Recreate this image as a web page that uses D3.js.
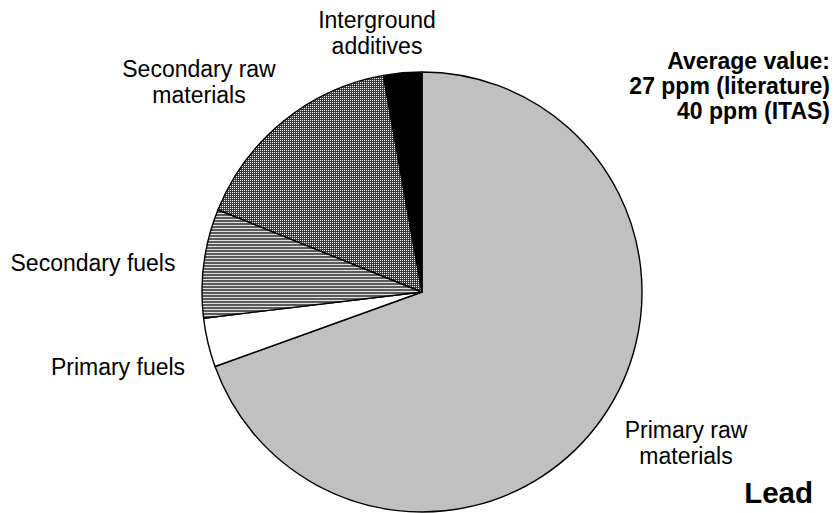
<!DOCTYPE html>
<html><head><meta charset="utf-8">
<script src="https://cdn.jsdelivr.net/npm/d3@7"></script>
<style>body{margin:0;background:#fff}svg{display:block}text{font-family:"Liberation Sans",Arial,sans-serif}</style>
</head><body>
<svg id="c" width="836" height="513"></svg>
<script>
const categories = ["Primary raw materials","Primary fuels","Secondary fuels","Secondary raw materials","Interground additives"];
const values = [69.5, 3.6, 8.0, 16.1, 2.8];
const labelLines = [["Primary raw","materials"],["Primary fuels"],["Secondary fuels"],["Secondary raw","materials"],["Interground","additives"]];
const noteLines = ["Average value:","27 ppm (literature)","40 ppm (ITAS)"];
const title = "Lead";

const svg = d3.select("#c");
const defs = svg.append("defs");
const p1 = defs.append("pattern").attr("id","dots").attr("width",2).attr("height",2).attr("patternUnits","userSpaceOnUse");
p1.append("rect").attr("width",2).attr("height",2).attr("fill","#3a3a3a");
p1.append("rect").attr("width",1).attr("height",1).attr("fill","#f4f4f4");
const p2 = defs.append("pattern").attr("id","hlines").attr("width",3).attr("height",3).attr("patternUnits","userSpaceOnUse");
p2.append("rect").attr("width",3).attr("height",3).attr("fill","#5a5a5a");
p2.append("rect").attr("y",2).attr("width",3).attr("height",1).attr("fill","#e0e0e0");

const fills = ["#c0c0c0","#ffffff","url(#hlines)","url(#dots)","#000000"];
const cx = 422, cy = 292, r = 220;
const pie = d3.pie().sort(null).value(d=>d).startAngle(0).endAngle(2*Math.PI);
const arc = d3.arc().innerRadius(0).outerRadius(r);
const g = svg.append("g").attr("transform",`translate(${cx},${cy})`);
g.selectAll("path").data(pie(values)).join("path")
  .attr("d",arc).attr("fill",(d,i)=>fills[i])
  .attr("stroke","#000").attr("stroke-width",1.4).attr("stroke-linejoin","round");

// category labels
const labelPos = [[686,438],[118,375],[93,271],[199,77],[377,28]];
labelLines.forEach((lines,i)=>{
  const t = svg.append("text").attr("text-anchor","middle").attr("font-size",23).attr("fill","#000");
  lines.forEach((s,j)=>{
    t.append("tspan").attr("x",labelPos[i][0]).attr("y",labelPos[i][1]+j*26).text(s);
  });
});

const note = svg.append("text").attr("text-anchor","end").attr("font-size",23).attr("font-weight","bold");
noteLines.forEach((s,j)=>note.append("tspan").attr("x",830).attr("y",69+j*25).text(s));

svg.append("text").attr("x",813).attr("y",503).attr("text-anchor","end")
  .attr("font-size",29.5).attr("font-weight","bold").text(title);
</script>
</body></html>
